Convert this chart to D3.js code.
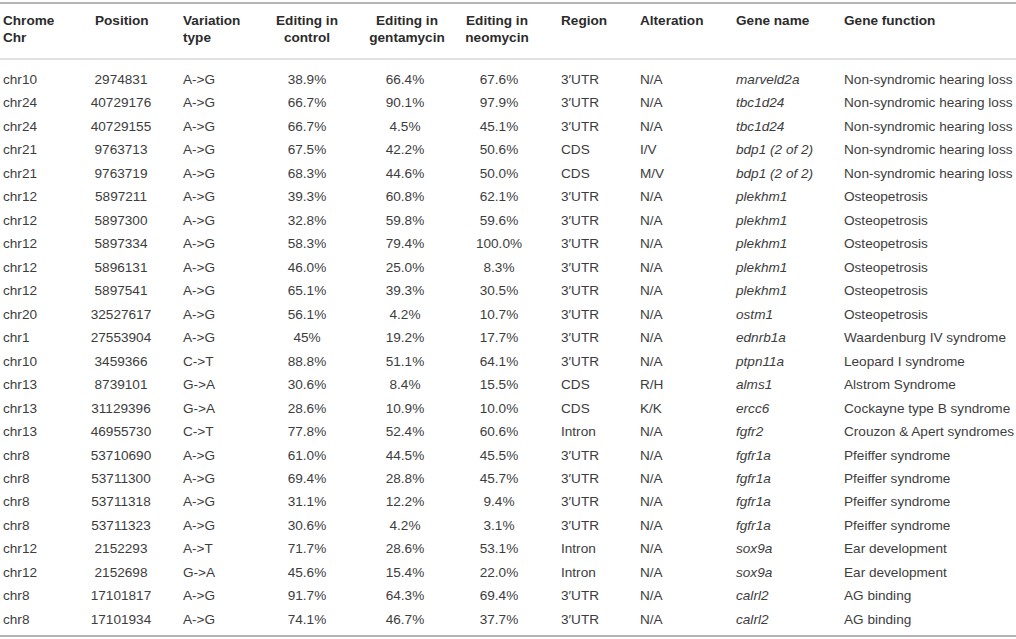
<!DOCTYPE html>
<html>
<head>
<meta charset="utf-8">
<script src="https://cdn.jsdelivr.net/npm/d3@7"></script>
<style>
  html, body { margin: 0; padding: 0; background: #fff; }
  svg { display: block; }
</style>
</head>
<body>
<svg id="chart" width="1016" height="639"></svg>
<script>
const headers1 = ["Chrome", "Position", "Variation", "Editing in", "Editing in", "Editing in", "Region", "Alteration", "Gene name", "Gene function"];
const headers2 = ["Chr", "", "type", "control", "gentamycin", "neomycin", "", "", "", ""];

const chrs = ["chr10","chr24","chr24","chr21","chr21","chr12","chr12","chr12","chr12","chr12","chr20","chr1","chr10","chr13","chr13","chr13","chr8","chr8","chr8","chr8","chr12","chr12","chr8","chr8"];
const positions = ["2974831","40729176","40729155","9763713","9763719","5897211","5897300","5897334","5896131","5897541","32527617","27553904","3459366","8739101","31129396","46955730","53710690","53711300","53711318","53711323","2152293","2152698","17101817","17101934"];
const variations = ["A->G","A->G","A->G","A->G","A->G","A->G","A->G","A->G","A->G","A->G","A->G","A->G","C->T","G->A","G->A","C->T","A->G","A->G","A->G","A->G","A->T","G->A","A->G","A->G"];
const editControl = ["38.9%","66.7%","66.7%","67.5%","68.3%","39.3%","32.8%","58.3%","46.0%","65.1%","56.1%","45%","88.8%","30.6%","28.6%","77.8%","61.0%","69.4%","31.1%","30.6%","71.7%","45.6%","91.7%","74.1%"];
const editGentamycin = ["66.4%","90.1%","4.5%","42.2%","44.6%","60.8%","59.8%","79.4%","25.0%","39.3%","4.2%","19.2%","51.1%","8.4%","10.9%","52.4%","44.5%","28.8%","12.2%","4.2%","28.6%","15.4%","64.3%","46.7%"];
const editNeomycin = ["67.6%","97.9%","45.1%","50.6%","50.0%","62.1%","59.6%","100.0%","8.3%","30.5%","10.7%","17.7%","64.1%","15.5%","10.0%","60.6%","45.5%","45.7%","9.4%","3.1%","53.1%","22.0%","69.4%","37.7%"];
const regions = ["3′UTR","3′UTR","3′UTR","CDS","CDS","3′UTR","3′UTR","3′UTR","3′UTR","3′UTR","3′UTR","3′UTR","3′UTR","CDS","CDS","Intron","3′UTR","3′UTR","3′UTR","3′UTR","Intron","Intron","3′UTR","3′UTR"];
const alterations = ["N/A","N/A","N/A","I/V","M/V","N/A","N/A","N/A","N/A","N/A","N/A","N/A","N/A","R/H","K/K","N/A","N/A","N/A","N/A","N/A","N/A","N/A","N/A","N/A"];
const geneNames = ["marveld2a","tbc1d24","tbc1d24","bdp1 (2 of 2)","bdp1 (2 of 2)","plekhm1","plekhm1","plekhm1","plekhm1","plekhm1","ostm1","ednrb1a","ptpn11a","alms1","ercc6","fgfr2","fgfr1a","fgfr1a","fgfr1a","fgfr1a","sox9a","sox9a","calrl2","calrl2"];
const geneFunctions = ["Non-syndromic hearing loss","Non-syndromic hearing loss","Non-syndromic hearing loss","Non-syndromic hearing loss","Non-syndromic hearing loss","Osteopetrosis","Osteopetrosis","Osteopetrosis","Osteopetrosis","Osteopetrosis","Osteopetrosis","Waardenburg IV syndrome","Leopard I syndrome","Alstrom Syndrome","Cockayne type B syndrome","Crouzon & Apert syndromes","Pfeiffer syndrome","Pfeiffer syndrome","Pfeiffer syndrome","Pfeiffer syndrome","Ear development","Ear development","AG binding","AG binding"];

const columns = [chrs, positions, variations, editControl, editGentamycin, editNeomycin, regions, alterations, geneNames, geneFunctions];

// layout (not data)
const colX = [3, 121, 183, 307, 405, 499, 561, 640, 736, 844];
const colAnchor = ["start","middle","start","middle","middle","middle","start","start","start","start"];
const headAnchor = ["start","start","start","middle","middle","middle","start","start","start","start"];
const headX = [3, 95, 183, 307, 407, 497, 561, 640, 736, 844];
const italicCol = 8;

const svg = d3.select("#chart");
const W = 1016;
const font = "'Liberation Sans', Arial, Helvetica, sans-serif";

const nRows = chrs.length;
const y = d3.scaleBand().domain(d3.range(nRows)).range([67.3, 630.8]);
const x = d3.scaleOrdinal().domain(d3.range(columns.length)).range(colX);
const hx = d3.scaleOrdinal().domain(d3.range(columns.length)).range(headX);

// rules
svg.append("line").attr("x1", 0).attr("x2", W).attr("y1", 3).attr("y2", 3).attr("stroke", "#b4b4b4").attr("stroke-width", 2);
svg.append("line").attr("x1", 0).attr("x2", W).attr("y1", 59).attr("y2", 59).attr("stroke", "#c4c4c4").attr("stroke-width", 1.2);
svg.append("line").attr("x1", 0).attr("x2", W).attr("y1", 636).attr("y2", 636).attr("stroke", "#b4b4b4").attr("stroke-width", 2);

// headers
const hg = svg.append("g").attr("font-family", font).attr("font-size", 13.6).attr("font-weight", "bold").attr("fill", "#2b2b2b");
hg.selectAll("text.h1").data(headers1).join("text")
  .attr("class", "h1")
  .attr("x", (d, i) => hx(i)).attr("y", 25)
  .attr("text-anchor", (d, i) => headAnchor[i])
  .text(d => d);
hg.selectAll("text.h2").data(headers2).join("text")
  .attr("class", "h2")
  .attr("x", (d, i) => hx(i)).attr("y", 42)
  .attr("text-anchor", (d, i) => headAnchor[i])
  .text(d => d);

// body
const bg = svg.append("g").attr("font-family", font).attr("font-size", 13.6).attr("fill", "#3d3d3d");
columns.forEach((col, ci) => {
  bg.selectAll("text.c" + ci).data(col).join("text")
    .attr("class", "c" + ci)
    .attr("x", x(ci))
    .attr("y", (d, ri) => y(ri) + y.bandwidth() / 2 + 4.8)
    .attr("text-anchor", colAnchor[ci])
    .attr("font-style", ci === italicCol ? "italic" : "normal")
    .text(d => d);
});
</script>
</body>
</html>
